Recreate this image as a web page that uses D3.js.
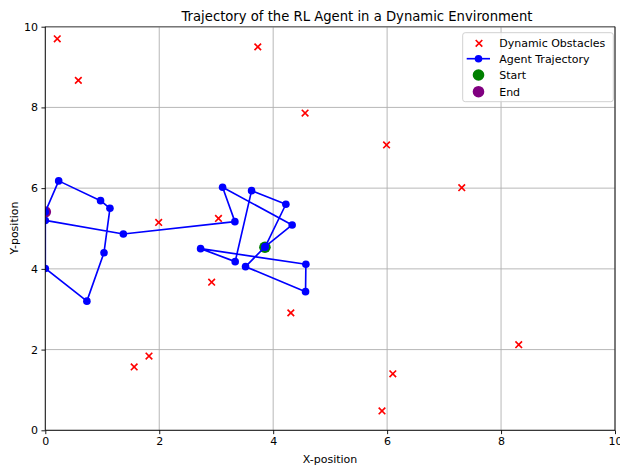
<!DOCTYPE html>
<html>
<head>
<meta charset="utf-8">
<script src="https://cdn.jsdelivr.net/npm/d3@7"></script>
<style>
    body { margin: 0; background: #fff; }
    svg { display: block; font-family: 'DejaVu Sans', sans-serif; }
</style>
</head>
<body>
<svg width="620" height="466"></svg>
<script>
// obstacles
var obstacleX = [0.21, 0.58, 3.73, 4.56, 5.99, 7.31, 8.31, 6.10, 5.91, 4.31, 2.92, 3.04, 1.99, 1.82, 1.56];
var obstacleY = [9.70, 8.67, 9.50, 7.86, 7.07, 6.01, 2.12, 1.40, 0.48, 2.91, 3.67, 5.25, 5.15, 1.84, 1.57];

// agent path, in visiting order (x clipped at 0 on the left wall)
var trajX = [3.855, 4.223, 3.621, 3.333, 2.726, 4.574, 4.568, 3.515, 3.86, 4.333, 3.112, 3.328, 1.37, 0.0, 0.0, 0.73, 1.03, 1.135, 0.97, 0.235, 0.0];
var trajY = [4.535, 5.601, 5.938, 4.179, 4.501, 4.114, 3.435, 4.055, 4.55, 5.088, 6.022, 5.170, 4.865, 5.20, 4.01, 3.20, 4.40, 5.50, 5.69, 6.18, 5.41];

var startPos = [3.855, 4.535];
var endPos = [0.0, 5.41];

var xTicks = [0, 2, 4, 6, 8, 10];
var yTicks = [0, 2, 4, 6, 8, 10];
var legendLabels = ['Dynamic Obstacles', 'Agent Trajectory', 'Start', 'End'];

var svg = d3.select('svg');
var plotLeft = 45.3, plotRight = 615, plotTop = 26.7, plotBottom = 430.3;

var x = d3.scaleLinear().domain([0, 10]).range([plotLeft, plotRight]);
var y = d3.scaleLinear().domain([0, 10]).range([plotBottom, plotTop]);

svg.append('defs').append('clipPath').attr('id', 'plotClip')
    .append('rect').attr('x', plotLeft).attr('y', plotTop)
    .attr('width', plotRight - plotLeft).attr('height', plotBottom - plotTop);

// grid
var grid = svg.append('g');
grid.selectAll('.gx').data(xTicks).enter().append('line')
    .attr('x1', d => x(d)).attr('x2', d => x(d))
    .attr('y1', plotTop).attr('y2', plotBottom)
    .attr('stroke', '#b0b0b0').attr('stroke-width', 0.9);
grid.selectAll('.gy').data(yTicks).enter().append('line')
    .attr('x1', plotLeft).attr('x2', plotRight)
    .attr('y1', d => y(d)).attr('y2', d => y(d))
    .attr('stroke', '#b0b0b0').attr('stroke-width', 0.9);

var plot = svg.append('g').attr('clip-path', 'url(#plotClip)');

// obstacles
function cross(g, cx, cy, r) {
    g.append('path')
        .attr('d', 'M' + (cx - r) + ',' + (cy - r) + 'L' + (cx + r) + ',' + (cy + r) +
                   'M' + (cx - r) + ',' + (cy + r) + 'L' + (cx + r) + ',' + (cy - r))
        .attr('stroke', '#ff0000').attr('stroke-width', 1.65).attr('fill', 'none');
}
obstacleX.forEach(function(v, i) {
    cross(plot, x(v), y(obstacleY[i]), 3.3);
});

// start / end sit below the line, like scatter does
plot.append('circle').attr('cx', x(startPos[0])).attr('cy', y(startPos[1]))
    .attr('r', 5.8).attr('fill', '#008000');
plot.append('circle').attr('cx', x(endPos[0])).attr('cy', y(endPos[1]))
    .attr('r', 5.8).attr('fill', '#800080');

// trajectory
var pts = trajX.map((v, i) => [v, trajY[i]]);
var line = d3.line().x(d => x(d[0])).y(d => y(d[1]));
plot.append('path').datum(pts)
    .attr('d', line)
    .attr('fill', 'none')
    .attr('stroke', '#0000ff')
    .attr('stroke-width', 1.65)
    .attr('stroke-linejoin', 'round');
plot.append('g').selectAll('circle').data(pts).enter().append('circle')
    .attr('cx', d => x(d[0])).attr('cy', d => y(d[1]))
    .attr('r', 3.8).attr('fill', '#0000ff');

// spines
svg.append('line').attr('x1', plotLeft).attr('x2', plotRight).attr('y1', plotTop).attr('y2', plotTop)
    .attr('stroke', '#777').attr('stroke-width', 1.4);
svg.append('line').attr('x1', plotLeft).attr('x2', plotRight).attr('y1', plotBottom).attr('y2', plotBottom)
    .attr('stroke', '#000').attr('stroke-width', 0.9);
svg.append('line').attr('x1', plotLeft).attr('x2', plotLeft).attr('y1', plotTop).attr('y2', plotBottom)
    .attr('stroke', '#000').attr('stroke-width', 0.9);
svg.append('line').attr('x1', plotRight).attr('x2', plotRight).attr('y1', plotTop).attr('y2', plotBottom)
    .attr('stroke', '#000').attr('stroke-width', 0.9);

// axes
var xAxis = d3.axisBottom(x).tickValues(xTicks).tickSize(3.85).tickPadding(3.5).tickFormat(d3.format('d'));
var yAxis = d3.axisLeft(y).tickValues(yTicks).tickSize(3.85).tickPadding(3.5).tickFormat(d3.format('d'));
var gx = svg.append('g').attr('transform', 'translate(0,' + plotBottom + ')').call(xAxis);
var gy = svg.append('g').attr('transform', 'translate(' + plotLeft + ',0)').call(yAxis);
[gx, gy].forEach(function(g) {
    g.select('.domain').remove();
    g.selectAll('line').attr('stroke', '#000').attr('stroke-width', 0.9);
    g.selectAll('text').attr('font-family', 'DejaVu Sans').attr('font-size', 11).attr('fill', '#000');
});

// title and labels
svg.append('text').attr('x', 357).attr('y', 20.5).attr('text-anchor', 'middle')
    .attr('font-size', 13.2).text('Trajectory of the RL Agent in a Dynamic Environment');
svg.append('text').attr('x', 330).attr('y', 463).attr('text-anchor', 'middle')
    .attr('font-size', 11).text('X-position');
svg.append('text').attr('transform', 'translate(17.5,228) rotate(-90)').attr('text-anchor', 'middle')
    .attr('font-size', 11).text('Y-position');

// legend
var lg = svg.append('g').attr('transform', 'translate(462.7,32.7)');
lg.append('rect').attr('width', 150.6).attr('height', 69).attr('rx', 2.5)
    .attr('fill', '#fff').attr('fill-opacity', 0.8)
    .attr('stroke', '#cccccc').attr('stroke-width', 0.9);
var rowY = [10.6, 26, 42.3, 59];
cross(lg, 16.3, rowY[0], 3.3);
lg.append('line').attr('x1', 4).attr('x2', 27.3).attr('y1', rowY[1]).attr('y2', rowY[1])
    .attr('stroke', '#0000ff').attr('stroke-width', 1.65);
lg.append('circle').attr('cx', 15.8).attr('cy', rowY[1]).attr('r', 3.8).attr('fill', '#0000ff');
lg.append('circle').attr('cx', 15.8).attr('cy', rowY[2]).attr('r', 5.8).attr('fill', '#008000');
lg.append('circle').attr('cx', 15.8).attr('cy', rowY[3]).attr('r', 5.8).attr('fill', '#800080');
lg.selectAll('.lt').data(legendLabels).enter().append('text')
    .attr('x', 36.5).attr('y', (d, i) => rowY[i] + 4)
    .attr('font-size', 11).text(d => d);
</script>
</body>
</html>
